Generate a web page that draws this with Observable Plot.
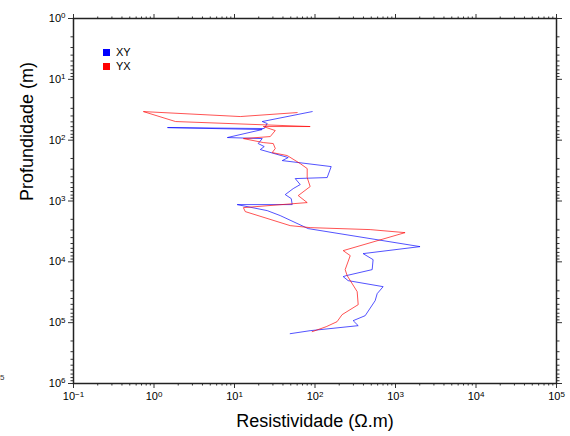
<!DOCTYPE html>
<html>
<head>
<meta charset="utf-8">
<script src="https://cdn.jsdelivr.net/npm/d3@7"></script>
<script src="https://cdn.jsdelivr.net/npm/@observablehq/plot@0.6"></script>
<style>
  html, body { margin: 0; padding: 0; background: #fff; }
  #wrap { position: relative; width: 570px; height: 436px; font-family: "Liberation Sans", Arial, Helvetica, sans-serif; }
  .leg { position: absolute; left: 103px; font-size: 11px; line-height: 14px; color: #000; }
  .leg span.sw { display: inline-block; width: 7px; height: 7px; margin-right: 6px; vertical-align: 0px; }
  #edge5 { position: absolute; left: 0px; top: 373px; font-size: 8px; color: #333; }
</style>
</head>
<body>
<div id="wrap">
  <div id="chart"></div>
  <div class="leg" style="top:45px"><span class="sw" style="background:#0000ff"></span>XY</div>
  <div class="leg" style="top:59px"><span class="sw" style="background:#ff0000"></span>YX</div>
  <div id="edge5">5</div>
</div>
<script>
// XY series (blue): apparent resistivity (ohm.m) vs depth (m), in plotted order
const xyResistivity = [92.3, 22.1, 25.5, 23.4, 1.47, 22.1, 8.15, 22.1, 19.7, 23.4, 20.9, 46.5, 39.2, 158.9, 141.6, 56.8, 65.5, 53.7, 42.7, 50.7, 52.1, 10.8, 25.5, 37.0, 82.4, 2018, 396, 527, 513, 244, 224, 258, 702, 592, 559, 420, 298, 344, 87.1, 49.2];
const xyDepth = [33.9, 49.4, 53.3, 64.4, 62.1, 66.9, 90.6, 94.2, 113.7, 127.4, 142.8, 193, 216.6, 271.8, 412, 428, 537, 625, 785, 914, 1146, 1146, 1439, 1738, 2844, 5623, 7328, 9200, 13430, 16870, 17510, 20370, 25590, 33340, 43450, 76740, 92700, 112000, 135400, 151700];

// YX series (red)
const yxResistivity = [60.1, 11.8, 0.738, 1.85, 87.1, 22.8, 32.1, 27.8, 12.9, 22.8, 30.3, 32.1, 29.4, 45.2, 65.5, 80.0, 80.0, 87.1, 61.9, 80.0, 12.9, 13.6, 49.2, 87.1, 484, 1315, 224, 274, 237, 251, 334, 344, 217, 188, 138, 92.3];
const yxDepth = [35.2, 40.9, 33.9, 49.4, 59.7, 59.7, 69.5, 87.3, 94.2, 109.5, 113.7, 137.4, 160, 179, 242.6, 293, 412, 579, 815, 1062, 1285, 1494, 2540, 2740, 2953, 3311, 6546, 7907, 13430, 16870, 30900, 50580, 73830, 96300, 116400, 140600];

const seriesNames = ["XY", "YX"];
const seriesColors = ["#0000ff", "#ff0000"];

// Axis ticks (decades)
const xTicks = [0.1, 1, 10, 100, 1000, 10000, 100000];
const yTicks = [1, 10, 100, 1000, 10000, 100000, 1000000];

const xyData = xyResistivity.map((r, i) => ({res: r, depth: xyDepth[i], s: seriesNames[0]}));
const yxData = yxResistivity.map((r, i) => ({res: r, depth: yxDepth[i], s: seriesNames[1]}));

const minorOf = (ticks) => ticks.slice(0, -1).flatMap(d => [2,3,4,5,6,7,8,9].map(k => d * k));
const xMinor = minorOf(xTicks);
const yMinor = minorOf(yTicks);

const fmt = d => "10^" + Math.round(Math.log10(d));
const blank = () => "";

const chart = Plot.plot({
  width: 570,
  height: 436,
  marginLeft: 73,
  marginRight: 14,
  marginTop: 18,
  marginBottom: 53,
  style: {fontFamily: "Liberation Sans, Arial, Helvetica, sans-serif", fontSize: "11px", color: "#000", background: "#fff"},
  x: {type: "log", domain: [0.1, 100000]},
  y: {type: "log", domain: [1, 1000000], reverse: true},
  marks: [
    Plot.axisX({anchor: "bottom", ticks: xTicks, tickSize: 5, tickPadding: 4, tickFormat: fmt, label: null, stroke: "#333"}),
    Plot.axisX({anchor: "bottom", ticks: xMinor, tickSize: 2.5, tickFormat: blank, label: null, stroke: "#333"}),
    Plot.axisX({anchor: "top", ticks: xTicks, tickSize: 5, tickFormat: blank, label: null, stroke: "#333"}),
    Plot.axisX({anchor: "top", ticks: xMinor, tickSize: 2.5, tickFormat: blank, label: null, stroke: "#333"}),
    Plot.axisY({anchor: "left", ticks: yTicks, tickSize: 5, tickPadding: 3, tickFormat: fmt, label: null, stroke: "#333"}),
    Plot.axisY({anchor: "left", ticks: yMinor, tickSize: 2.5, tickFormat: blank, label: null, stroke: "#333"}),
    Plot.axisY({anchor: "right", ticks: yTicks, tickSize: 5, tickFormat: blank, label: null, stroke: "#333"}),
    Plot.axisY({anchor: "right", ticks: yMinor, tickSize: 2.5, tickFormat: blank, label: null, stroke: "#333"}),
    Plot.frame({stroke: "#222", strokeWidth: 1.5}),
    Plot.line(xyData, {x: "res", y: "depth", stroke: seriesColors[0], strokeWidth: 0.8, strokeOpacity: 0.85}),
    Plot.line(yxData, {x: "res", y: "depth", stroke: seriesColors[1], strokeWidth: 0.8, strokeOpacity: 0.85}),
    Plot.text(["Resistividade (\u03A9.m)"], {frameAnchor: "bottom", dy: 43, fontSize: 18, fill: "#000"}),
    Plot.text(["Profundidade (m)"], {frameAnchor: "left", dx: -46, rotate: -90, fontSize: 18, fill: "#000"})
  ]
});

// Turn "10^n" labels into 10 with a raised exponent
d3.select(chart).selectAll("text").each(function () {
  const t = this.textContent;
  const m = /^10\^(-?\d+)$/.exec(t);
  if (!m) return;
  const el = d3.select(this);
  el.text("");
  el.append("tspan").text("10");
  el.append("tspan").attr("font-size", "8px").attr("dy", "-0.45em").text(m[1].replace("-", "\u2212"));
});

document.getElementById("chart").appendChild(chart);
</script>
</body>
</html>
